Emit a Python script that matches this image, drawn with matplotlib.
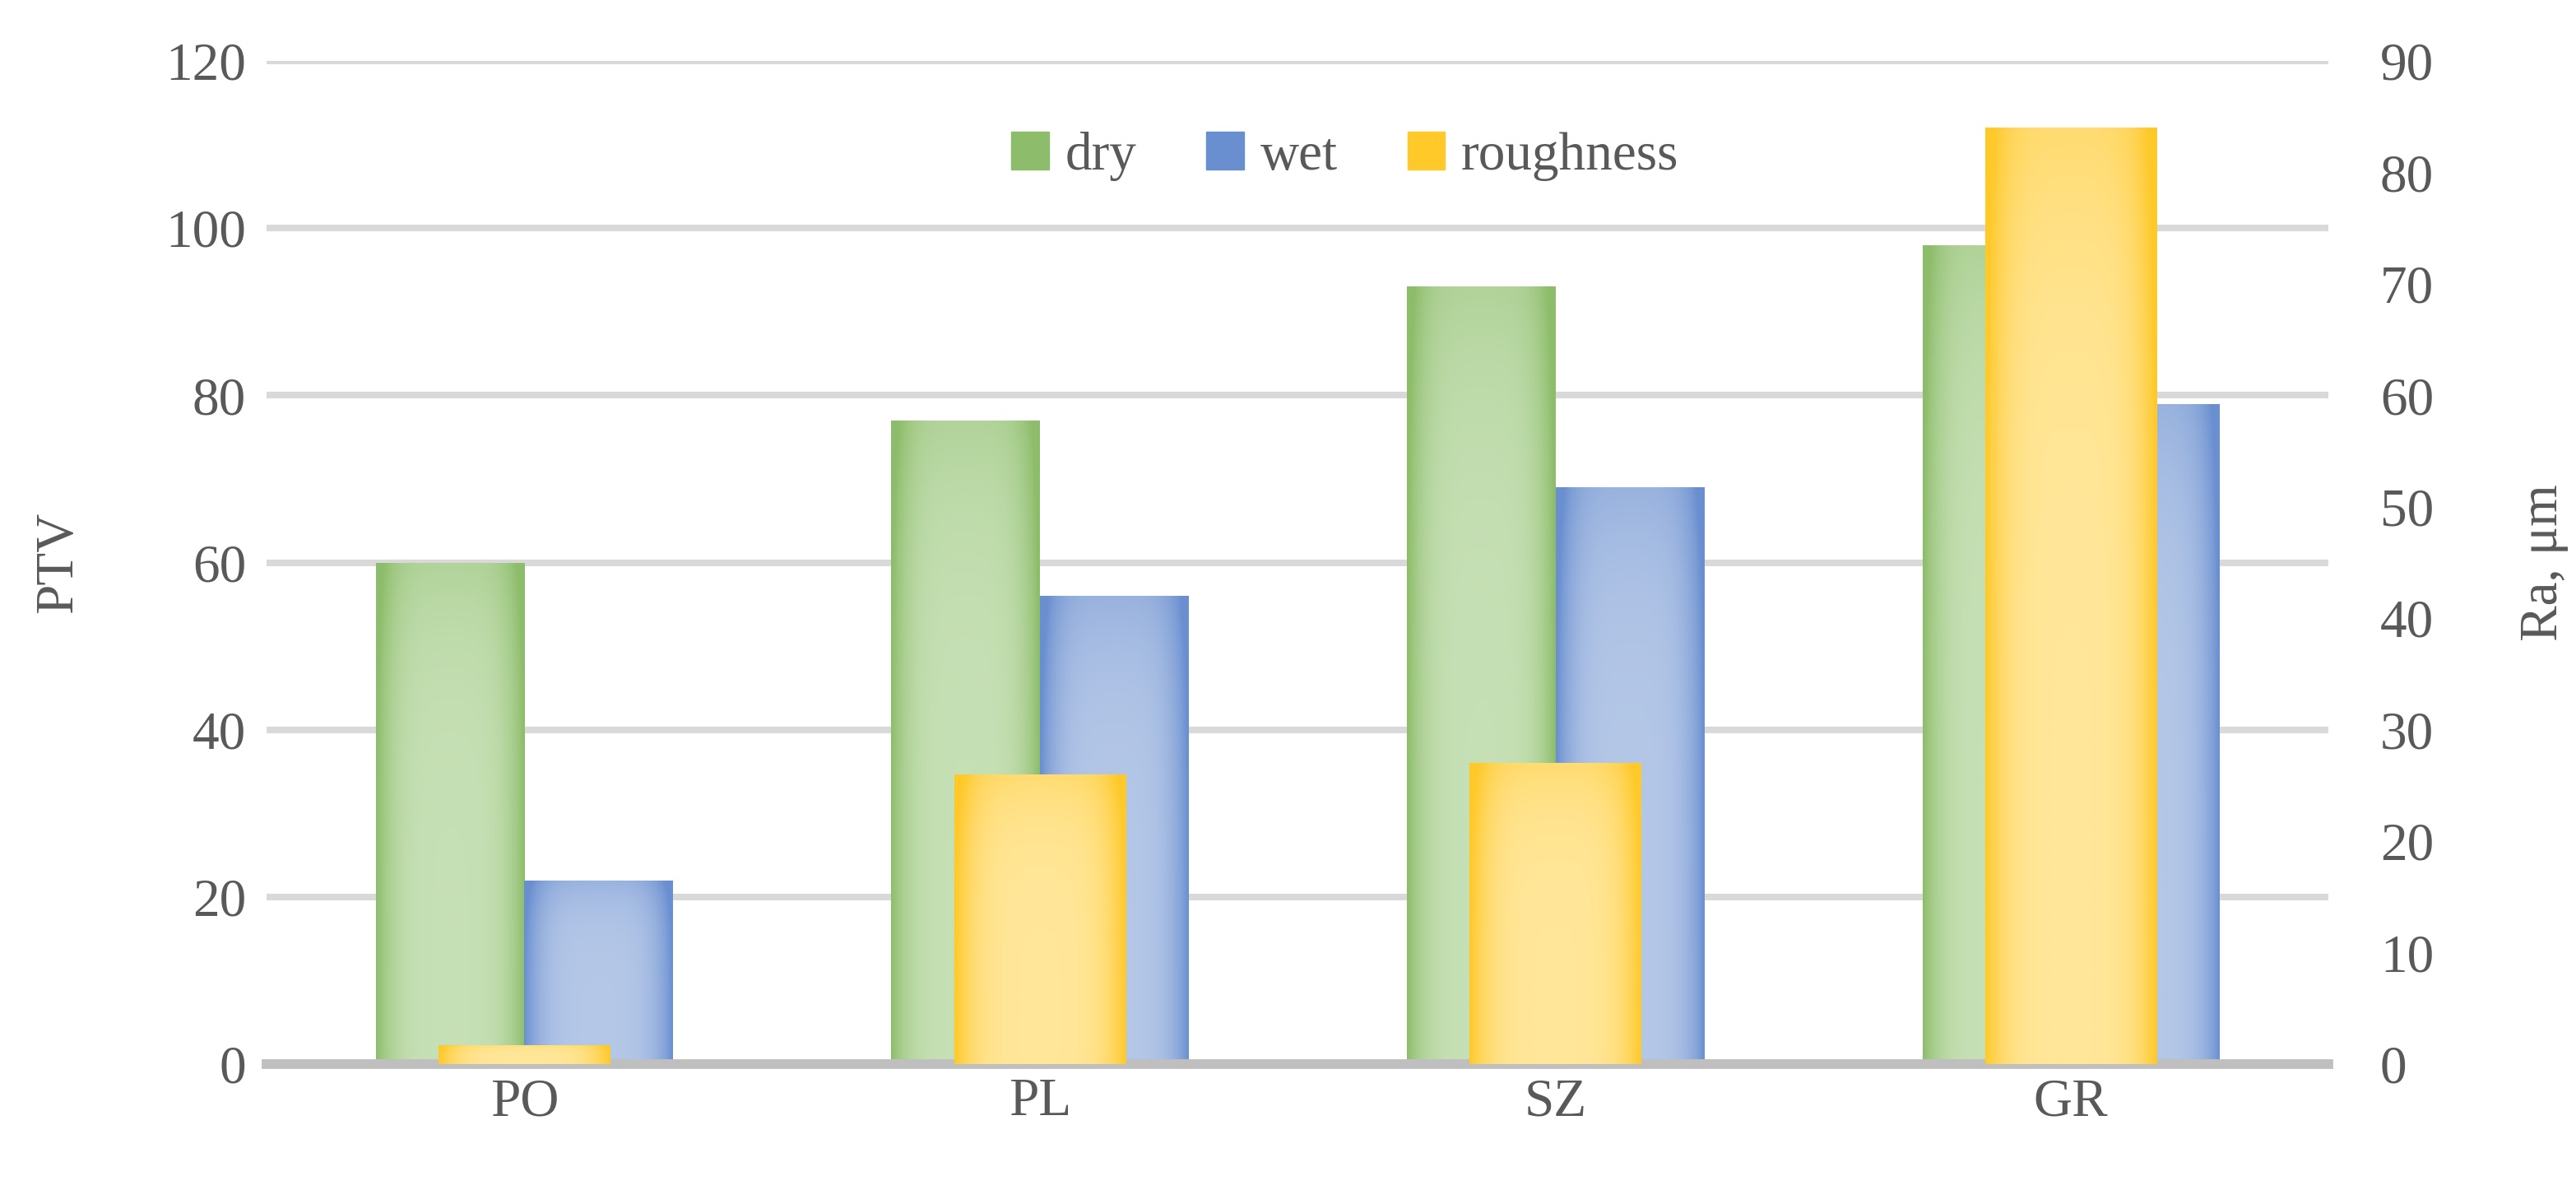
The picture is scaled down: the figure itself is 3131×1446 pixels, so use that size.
import matplotlib.pyplot as plt
plt.switch_backend('agg')
import numpy as np
from matplotlib.colors import LinearSegmentedColormap
from matplotlib.patches import Patch

# data
categories = ['PO', 'PL', 'SZ', 'GR']
dry = [60, 77, 93, 98]
wet = [22, 56, 69, 79]
roughness = [1.7, 26, 27, 84]   # right axis, Ra in um

plt.rcParams['font.family'] = ['Liberation Serif', 'DejaVu Serif']
text_col = '#595959'
fs = 47

fig = plt.figure(figsize=(31.31, 14.46), dpi=100)
ax = fig.add_axes([0.1035, 0.1058, 0.8005, 0.843])
ax2 = ax.twinx()

x = np.arange(len(categories))
w = 0.288
wr = 0.333

# gradient fill: dark edges, light centre
def shade(axis, bars, edge, centre):
    cmap = LinearSegmentedColormap.from_list('g', [centre, edge])
    t = np.linspace(-1, 1, 200)
    prof = np.abs(t) ** 4
    img = np.tile(prof, (50, 1))
    # a bit darker toward the bottom
    vert = np.linspace(1, 0, 50)[:, None] ** 6 * 0.35
    img = np.clip(img + vert, 0, 1)
    for b in bars:
        x0, y0 = b.get_x(), b.get_y()
        x1, y1 = x0 + b.get_width(), y0 + b.get_height()
        im = axis.imshow(img, cmap=cmap, vmin=0, vmax=1, aspect='auto',
                         extent=(x0, x1, y0, y1), origin='upper',
                         interpolation='bilinear', zorder=b.get_zorder())
        im.set_clip_path(b)
        b.set_facecolor('none')

b_dry = ax.bar(x - w / 2, dry, w, color='#c5e0b4', zorder=3)
b_wet = ax.bar(x + w / 2, wet, w, color='#b4c7e7', zorder=3)
b_r = ax2.bar(x, roughness, wr, color='#ffe699', zorder=3)
shade(ax, b_dry, '#8dbd6a', '#c6e0b5')
shade(ax, b_wet, '#6a8fd0', '#b4c7e7')
shade(ax2, b_r, '#ffc929', '#ffe699')

ax.set_xlim(-0.5, 3.5)
ax.set_ylim(0, 120)
ax2.set_ylim(0, 90)
ax.set_yticks(np.arange(0, 121, 20))
ax2.set_yticks(np.arange(0, 91, 10))
ax.set_xticks(x)
ax.set_xticklabels(categories)

ax.yaxis.grid(True, color='#d9d9d9', linewidth=5.8, zorder=0)
ax.set_axisbelow(True)
ax.axhline(0, color='#bfbfbf', linewidth=8.5, zorder=4, clip_on=False)

for a in (ax, ax2):
    for s in a.spines.values():
        s.set_visible(False)
    a.tick_params(length=0, labelsize=fs, labelcolor=text_col)
ax.tick_params(axis='y', pad=18)
ax2.tick_params(axis='y', pad=45)
ax.tick_params(axis='x', pad=12)

ax.set_ylabel('PTV', fontsize=fs, color=text_col, labelpad=72)
ax2.set_ylabel('Ra, μm', fontsize=fs, color=text_col, rotation=90, labelpad=75)

handles = [Patch(color='#8dbd6a'), Patch(color='#6a8fd0'), Patch(color='#ffc929')]
ax2.legend(handles, ['dry', 'wet', 'roughness'], loc='center',
           bbox_to_anchor=(0.523, 0.905), ncol=3, frameon=False,
           fontsize=fs, labelcolor=text_col, handlelength=0.7,
           handleheight=0.7, handletextpad=0.3, columnspacing=1.3)

plt.savefig('out.png')
